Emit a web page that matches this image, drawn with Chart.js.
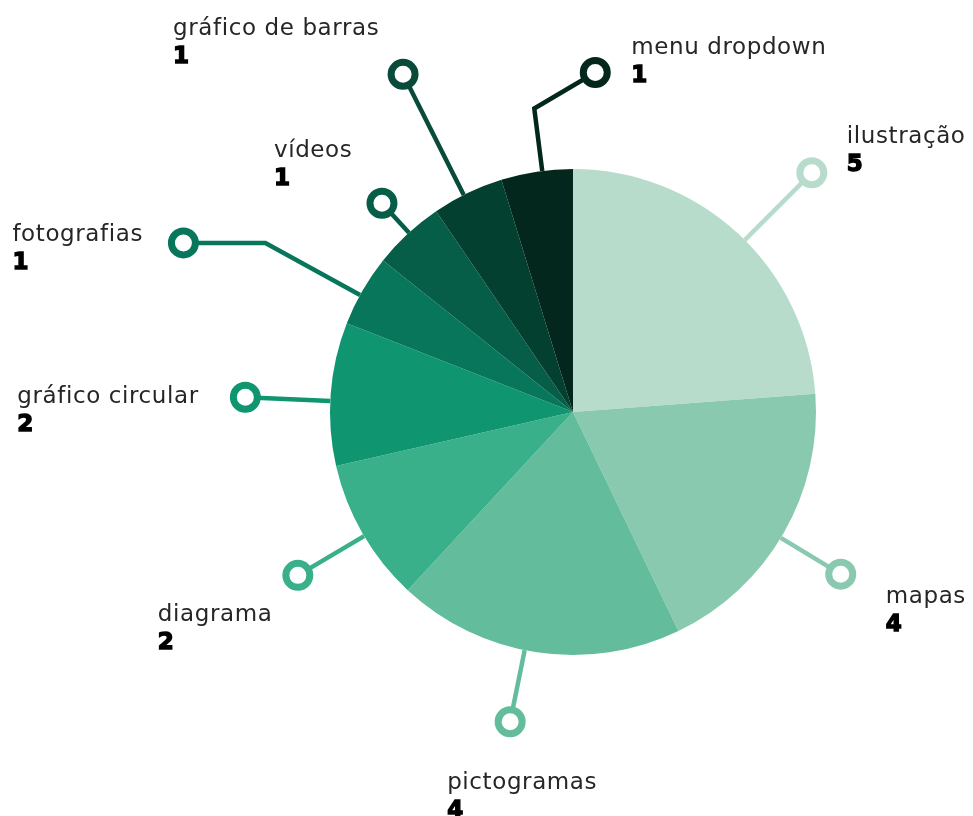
<!DOCTYPE html>
<html>
<head>
<meta charset="utf-8">
<script src="https://cdn.jsdelivr.net/npm/chart.js@4"></script>
<style>
    body { margin: 0; background: #ffffff; }
    #wrap { width: 973px; height: 816px; position: relative; }
</style>
</head>
<body>
<div id="wrap"><canvas id="pieChart" width="973" height="816"></canvas></div>
<script>
/* data */
const categories = ['ilustração', 'mapas', 'pictogramas', 'diagrama', 'gráfico circular',
    'fotografias', 'vídeos', 'gráfico de barras', 'menu dropdown'];
const counts = [5, 4, 4, 2, 2, 1, 1, 1, 1];

/* styles */
const sliceColors = ['#b8dccb', '#89c9af', '#63bc9b', '#39b08a', '#0f9671',
    '#07765b', '#065e49', '#04402f', '#03261d'];
const leaderColors = ['#b8dccb', '#89c9af', '#63bc9b', '#39b08a', '#0f9671',
    '#07765b', '#065e49', '#0a4a3a', '#03261d'];

// leader layout per slice: angle shift (deg), length past the rim, optional elbow, label offset from ring
const leaders = [
    { shift: 2.1,  len: 95,  elbow: null,     label: [35, -30] },
    { shift: 1.2,  len: 70,  elbow: null,     label: [45, 29] },
    { shift: 2.9,  len: 73,  elbow: null,     label: [-63, 67] },
    { shift: -0.7, len: 77,  elbow: null,     label: [-140, 46] },
    { shift: -1.7, len: 85,  elbow: null,     label: [-228, 6] },
    { shift: -1.2, len: 108, elbow: [-82, 0], label: [-171, -2] },
    { shift: 0.4,  len: 40,  elbow: null,     label: [-108, -46] },
    { shift: -1,   len: 135, elbow: null,     label: [-230, -39] },
    { shift: 1.3,  len: 63,  elbow: [61, -36], label: [36, -18] }
];

const leaderPlugin = {
    id: 'leaderLabels',
    afterDatasetsDraw(chart) {
        const ctx = chart.ctx;
        const arcs = chart.getDatasetMeta(0).data;
        arcs.forEach((arc, i) => {
            const p = arc.getProps(['x', 'y', 'startAngle', 'endAngle', 'outerRadius'], true);
            const lay = leaders[i];
            const a = (p.startAngle + p.endAngle) / 2 + lay.shift * Math.PI / 180;
            const x0 = p.x + Math.cos(a) * p.outerRadius;
            const y0 = p.y + Math.sin(a) * p.outerRadius;
            let x1 = p.x + Math.cos(a) * (p.outerRadius + lay.len);
            let y1 = p.y + Math.sin(a) * (p.outerRadius + lay.len);

            ctx.save();
            ctx.strokeStyle = leaderColors[i];
            ctx.lineWidth = 4.5;
            ctx.lineJoin = 'miter';
            ctx.beginPath();
            ctx.moveTo(x0, y0);
            ctx.lineTo(x1, y1);
            if (lay.elbow) {
                x1 += lay.elbow[0];
                y1 += lay.elbow[1];
                ctx.lineTo(x1, y1);
            }
            ctx.stroke();

            // ring end
            ctx.beginPath();
            ctx.arc(x1, y1, 12, 0, Math.PI * 2);
            ctx.fillStyle = '#ffffff';
            ctx.fill();
            ctx.lineWidth = 7;
            ctx.stroke();

            // label + count
            const lx = x1 + lay.label[0];
            const ly = y1 + lay.label[1];
            ctx.textAlign = 'left';
            ctx.textBaseline = 'alphabetic';
            ctx.fillStyle = '#262626';
            ctx.font = '400 23px "DejaVu Sans"';
            ctx.letterSpacing = '0.6px';
            ctx.fillText(categories[i], lx, ly);
            ctx.letterSpacing = '0px';
            ctx.fillStyle = '#000000';
            ctx.strokeStyle = '#000000';
            ctx.lineWidth = 1.4;
            ctx.font = 'bold 23px "DejaVu Sans"';
            ctx.fillText(String(counts[i]), lx, ly + 28);
            ctx.strokeText(String(counts[i]), lx, ly + 28);
            ctx.restore();
        });
    }
};

new Chart(document.getElementById('pieChart'), {
    type: 'pie',
    data: {
        labels: categories,
        datasets: [{
            data: counts,
            backgroundColor: sliceColors,
            borderWidth: 0
        }]
    },
    options: {
        responsive: false,
        animation: false,
        layout: {
            padding: { left: 330, right: 157, top: 169, bottom: 161 }
        },
        plugins: {
            legend: { display: false },
            tooltip: { enabled: false }
        }
    },
    plugins: [leaderPlugin]
});
</script>
</body>
</html>
